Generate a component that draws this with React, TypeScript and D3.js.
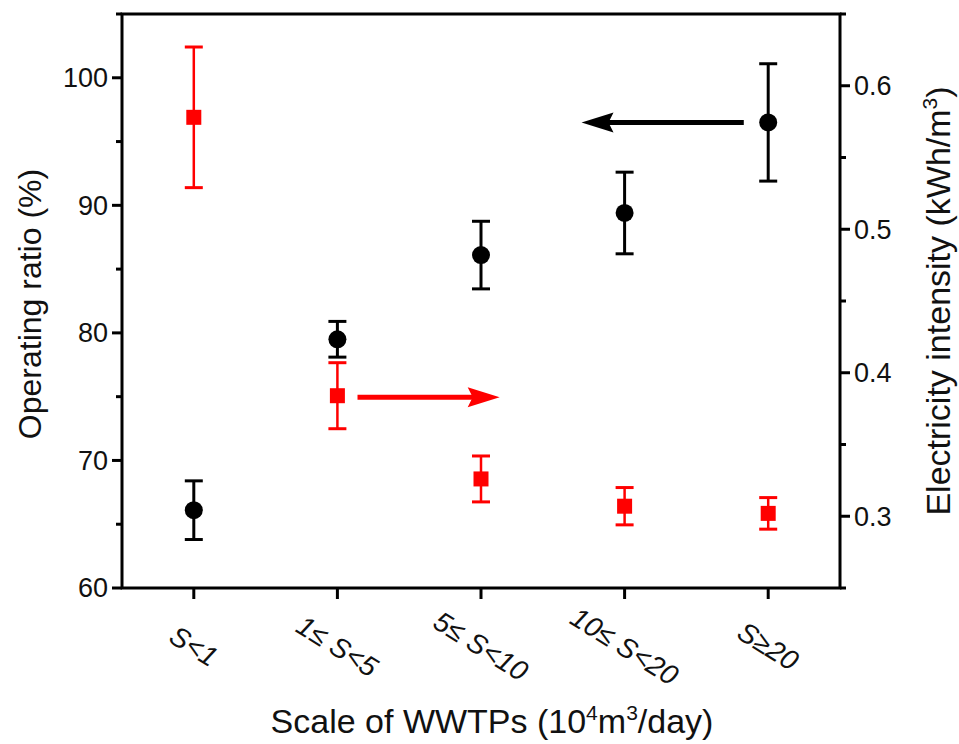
import React from "react";
import * as d3 from "d3";

const categories = ["S<1", "1\u2264 S<5", "5\u2264 S<10", "10\u2264 S<20", "S\u226520"];
const operatingRatio = [66.1, 79.5, 86.1, 89.4, 96.5];
const operatingErr = [2.3, 1.4, 2.65, 3.2, 4.6];
const electricity = [0.578, 0.384, 0.326, 0.307, 0.302];
const electricityErr = [0.049, 0.023, 0.016, 0.013, 0.011];
const leftTicks = [60, 70, 80, 90, 100];
const leftMinor = [65, 75, 85, 95, 105];
const rightTicks = [0.3, 0.4, 0.5, 0.6];
const rightMinor = [0.25, 0.35, 0.45, 0.55, 0.65];

const W = 959, H = 744;
const L = 122, R = 840, T = 14, B = 588;
const FONT = "'Liberation Sans', Arial, sans-serif";

export default function App() {
  const x = d3.scaleLinear().domain([0.5, 5.5]).range([L, R]);
  const yL = d3.scaleLinear().domain([60, 105]).range([B, T]);
  const yR = d3.scaleLinear().domain([0.25, 0.65]).range([B, T]);
  const idx = categories.map((_, i) => i + 1);

  const blackArrow = { y: 96.5, from: 4.83, to: 3.7 };
  const redArrow = { y: 0.383, from: 2.14, to: 3.13 };

  return (
    <svg width={W} height={H} style={{ position: "absolute", left: 0, top: 0, background: "#fff" }}>
      {/* frame */}
      <rect x={L} y={T} width={R - L} height={B - T} fill="none" stroke="#000" strokeWidth={3} />
      {/* left ticks */}
      {leftTicks.map((t) => (
        <g key={"l" + t}>
          <line x1={L - 10} x2={L} y1={yL(t)} y2={yL(t)} stroke="#000" strokeWidth={3} />
          <text x={L - 14} y={yL(t)} dy="0.35em" textAnchor="end" fontSize={27} fontFamily={FONT} fill="#111">{t}</text>
        </g>
      ))}
      {leftMinor.map((t) => (
        <line key={"lm" + t} x1={L - 6} x2={L} y1={yL(t)} y2={yL(t)} stroke="#000" strokeWidth={3} />
      ))}
      {/* right ticks */}
      {rightTicks.map((t) => (
        <g key={"r" + t}>
          <line x1={R} x2={R + 10} y1={yR(t)} y2={yR(t)} stroke="#000" strokeWidth={3} />
          <text x={R + 14} y={yR(t)} dy="0.35em" textAnchor="start" fontSize={27} fontFamily={FONT} fill="#111">{t.toFixed(1)}</text>
        </g>
      ))}
      {rightMinor.map((t) => (
        <line key={"rm" + t} x1={R} x2={R + 6} y1={yR(t)} y2={yR(t)} stroke="#000" strokeWidth={3} />
      ))}
      {/* bottom ticks */}
      {idx.map((c, i) => (
        <g key={"b" + i}>
          <line x1={x(c)} x2={x(c)} y1={B} y2={B + 11} stroke="#000" strokeWidth={3} />
          <text
            transform={`translate(${x(c)},${646}) rotate(32)`}
            textAnchor="middle"
            dy="0.35em"
            fontSize={28}
            fontStyle="italic"
            fontFamily={FONT}
            fill="#111"
          >
            {categories[i]}
          </text>
        </g>
      ))}
      {/* titles */}
      <text transform={`translate(41,${(T + B) / 2 + 3}) rotate(-90)`} textAnchor="middle" fontSize={32} fontFamily={FONT} fill="#111">
        Operating ratio (%)
      </text>
      <text transform={`translate(950,${(T + B) / 2}) rotate(-90)`} textAnchor="middle" fontSize={34} fontFamily={FONT} fill="#111">
        Electricity intensity (kWh/m<tspan dy="-13" fontSize={21}>3</tspan><tspan dy="13">)</tspan>
      </text>
      <text x={492} y={733} textAnchor="middle" fontSize={34} fontFamily={FONT} fill="#111">
        Scale of WWTPs (10<tspan dy="-13" fontSize={21}>4</tspan><tspan dy="13">m</tspan><tspan dy="-13" fontSize={21}>3</tspan><tspan dy="13">/day)</tspan>
      </text>

      {/* red series (right axis) */}
      {idx.map((c, i) => {
        const cx = x(c);
        const hi = yR(electricity[i] + electricityErr[i]);
        const lo = yR(electricity[i] - electricityErr[i]);
        return (
          <g key={"red" + i} stroke="#ff0000" fill="#ff0000">
            <line x1={cx} x2={cx} y1={hi} y2={lo} strokeWidth={2.5} />
            <line x1={cx - 9} x2={cx + 9} y1={hi} y2={hi} strokeWidth={3} />
            <line x1={cx - 9} x2={cx + 9} y1={lo} y2={lo} strokeWidth={3} />
            <rect x={cx - 7.5} y={yR(electricity[i]) - 7.5} width={15} height={15} stroke="none" />
          </g>
        );
      })}
      {/* black series (left axis) */}
      {idx.map((c, i) => {
        const cx = x(c);
        const hi = yL(operatingRatio[i] + operatingErr[i]);
        const lo = yL(operatingRatio[i] - operatingErr[i]);
        return (
          <g key={"blk" + i} stroke="#000" fill="#000">
            <line x1={cx} x2={cx} y1={hi} y2={lo} strokeWidth={3} />
            <line x1={cx - 9} x2={cx + 9} y1={hi} y2={hi} strokeWidth={3} />
            <line x1={cx - 9} x2={cx + 9} y1={lo} y2={lo} strokeWidth={3} />
            <circle cx={cx} cy={yL(operatingRatio[i])} r={9} stroke="none" />
          </g>
        );
      })}

      {/* arrows */}
      <g>
        <line x1={x(blackArrow.from)} x2={x(blackArrow.to) + 26} y1={yL(blackArrow.y)} y2={yL(blackArrow.y)} stroke="#000" strokeWidth={5} />
        <path
          d={`M${x(blackArrow.to)},${yL(blackArrow.y)} L${x(blackArrow.to) + 32},${yL(blackArrow.y) - 10} L${x(blackArrow.to) + 27},${yL(blackArrow.y)} L${x(blackArrow.to) + 32},${yL(blackArrow.y) + 10} Z`}
          fill="#000"
        />
        <line x1={x(redArrow.from)} x2={x(redArrow.to) - 26} y1={yR(redArrow.y)} y2={yR(redArrow.y)} stroke="#ff0000" strokeWidth={5} />
        <path
          d={`M${x(redArrow.to)},${yR(redArrow.y)} L${x(redArrow.to) - 32},${yR(redArrow.y) - 10} L${x(redArrow.to) - 27},${yR(redArrow.y)} L${x(redArrow.to) - 32},${yR(redArrow.y) + 10} Z`}
          fill="#ff0000"
        />
      </g>
    </svg>
  );
}
